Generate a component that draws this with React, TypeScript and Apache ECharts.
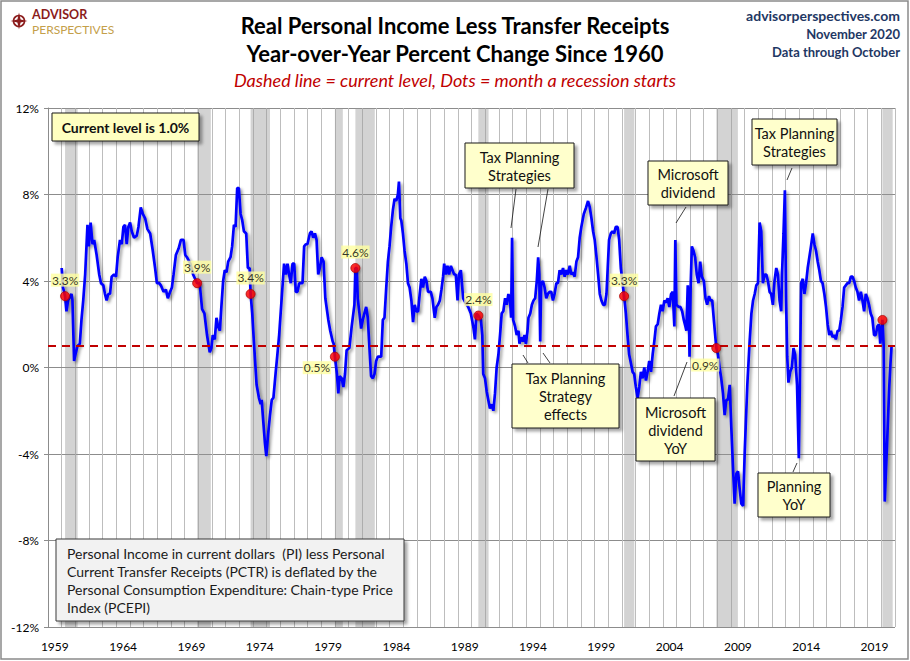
import React, { useEffect, useRef } from "react";
import * as echarts from "echarts";

const FONT = "Lato, 'Open Sans', sans-serif";

// Year-over-year % change, [decimal year, value]
const yoy1960s: [number, number][] = [
  [1960.0, 4.6], [1960.1, 3.7], [1960.25, 3.3], [1960.35, 2.6], [1960.47, 3.1], [1960.72, 3.4], [1960.79, 3.1],
  [1960.91, 0.3], [1961.01, 0.6], [1961.16, 1.0], [1961.33, 1.1], [1961.45, 2.2], [1961.58, 3.1], [1961.72, 4.3],
  [1961.89, 6.6], [1961.99, 5.6], [1962.12, 6.7], [1962.26, 5.7], [1962.38, 5.9], [1962.56, 5.2], [1962.75, 4.3],
  [1962.88, 3.9], [1963.05, 3.8], [1963.17, 3.4], [1963.29, 3.1], [1963.41, 3.4], [1963.54, 3.4], [1963.66, 4.2],
  [1963.83, 4.3], [1963.98, 4.2], [1964.1, 5.1], [1964.27, 5.9], [1964.4, 5.7], [1964.52, 6.5], [1964.64, 6.6],
  [1964.76, 5.7], [1964.88, 6.5], [1965.01, 6.7], [1965.13, 6.3], [1965.3, 6.0], [1965.5, 6.1], [1965.62, 6.5],
  [1965.79, 7.4], [1965.94, 7.1], [1966.11, 6.9], [1966.28, 6.4], [1966.48, 6.2], [1966.67, 5.4], [1966.84, 4.6],
  [1966.97, 3.9], [1967.14, 3.9], [1967.26, 3.8], [1967.46, 3.5], [1967.63, 3.6], [1967.77, 3.2], [1967.94, 3.5],
  [1968.07, 3.7], [1968.19, 4.3], [1968.36, 5.2], [1968.56, 5.5], [1968.73, 5.9], [1968.92, 5.9], [1969.05, 5.2],
  [1969.17, 5.1], [1969.42, 4.8], [1969.62, 4.3], [1969.92, 3.9],
];

const yoy1970s: [number, number][] = [
  [1970.1, 3.9], [1970.28, 2.7], [1970.45, 2.5], [1970.64, 1.5], [1970.84, 0.7], [1970.96, 0.9], [1971.06, 1.5],
  [1971.21, 1.3], [1971.33, 2.3], [1971.45, 1.9], [1971.58, 1.7], [1971.7, 2.9], [1971.82, 4.0], [1971.94, 4.5],
  [1972.07, 4.4], [1972.19, 4.9], [1972.36, 5.1], [1972.48, 5.6], [1972.61, 6.6], [1972.73, 6.5], [1972.85, 8.3],
  [1972.97, 8.3], [1973.1, 7.1], [1973.22, 6.8], [1973.34, 6.3], [1973.51, 6.2], [1973.63, 4.6], [1973.76, 4.6],
  [1973.83, 3.4], [1973.95, 2.5], [1974.07, 1.2], [1974.27, -0.8], [1974.44, -1.4], [1974.57, -1.7], [1974.64, -1.5],
  [1974.76, -2.5], [1974.88, -3.5], [1974.98, -4.1], [1975.11, -3.1], [1975.25, -2.2], [1975.38, -1.5], [1975.5, -1.4],
  [1975.67, -0.2], [1975.79, 0.6], [1975.92, 1.5], [1976.04, 2.6], [1976.16, 3.7], [1976.28, 4.8], [1976.41, 4.3],
  [1976.53, 4.8], [1976.65, 4.3], [1976.77, 3.9], [1976.9, 4.8], [1977.02, 4.8], [1977.14, 3.5], [1977.26, 3.5],
  [1977.39, 3.9], [1977.63, 3.9], [1977.75, 5.6], [1977.87, 5.7], [1977.99, 5.7], [1978.17, 6.2], [1978.29, 6.3],
  [1978.41, 6.0], [1978.54, 6.2], [1978.66, 5.9], [1978.78, 4.3], [1978.9, 4.6], [1979.03, 5.1], [1979.17, 4.9],
  [1979.3, 3.2], [1979.52, 2.2], [1979.66, 1.7], [1979.84, 1.2], [1979.91, 1.1],
];

const yoy1980s: [number, number][] = [
  [1980.0, 0.5], [1980.15, -0.3], [1980.25, -1.2], [1980.35, -0.4], [1980.5, -0.5], [1980.62, -0.9], [1980.74, -0.3],
  [1980.86, 0.8], [1981.06, 0.9], [1981.23, 1.9], [1981.35, 2.5], [1981.43, 2.9], [1981.5, 4.6], [1981.6, 4.6],
  [1981.67, 3.2], [1981.8, 2.5], [1981.92, 1.8], [1982.04, 2.2], [1982.16, 2.5], [1982.29, 2.8], [1982.41, 2.3],
  [1982.53, 0.9], [1982.65, -0.4], [1982.78, -0.5], [1982.9, -0.3], [1983.02, 0.3], [1983.14, 0.5], [1983.27, 0.5],
  [1983.39, 0.5], [1983.51, 2.2], [1983.63, 2.3], [1983.76, 3.7], [1983.88, 4.9], [1984.0, 5.6], [1984.12, 6.5],
  [1984.25, 7.3], [1984.37, 7.8], [1984.49, 7.7], [1984.61, 8.0], [1984.69, 8.6], [1984.79, 6.9], [1984.86, 6.8],
  [1984.98, 6.2], [1985.1, 5.4], [1985.23, 4.8], [1985.35, 3.9], [1985.47, 3.7], [1985.6, 3.1], [1985.72, 2.1],
  [1985.84, 2.9], [1985.96, 2.6], [1986.09, 2.6], [1986.21, 3.4], [1986.33, 4.1], [1986.45, 3.7], [1986.58, 4.2],
  [1986.7, 4.0], [1986.82, 3.5], [1987.02, 3.5], [1987.14, 3.2], [1987.31, 2.3], [1987.43, 2.8], [1987.55, 2.9],
  [1987.68, 3.1], [1987.8, 3.6], [1987.92, 4.2], [1988.0, 4.8], [1988.12, 4.3], [1988.24, 4.7], [1988.36, 4.3],
  [1988.49, 4.7], [1988.61, 4.5], [1988.73, 4.3], [1988.85, 4.3], [1988.98, 3.1], [1989.08, 4.3], [1989.22, 4.5],
  [1989.39, 3.2], [1989.56, 3.0], [1989.76, 2.8], [1989.95, 2.5],
];

const yoy1990s: [number, number][] = [
  [1990.13, 1.9], [1990.25, 1.3], [1990.37, 2.5], [1990.5, 2.4], [1990.69, 2.2], [1990.79, 1.5], [1990.86, -0.3],
  [1990.99, -0.5], [1991.11, -1.1], [1991.23, -1.5], [1991.35, -1.9], [1991.48, -1.7], [1991.6, -2.0], [1991.72, -1.2],
  [1991.84, 0.0], [1991.97, 0.6], [1992.09, 1.5], [1992.21, 2.5], [1992.33, 2.6], [1992.46, 3.2], [1992.58, 2.9],
  [1992.7, 3.4], [1992.82, 3.1], [1992.9, 2.3], [1992.97, 6.0], [1993.05, 2.2], [1993.19, 1.9], [1993.31, 1.5],
  [1993.44, 1.7], [1993.51, 1.1], [1993.63, 1.4], [1993.76, 1.2], [1993.88, 1.5], [1993.98, 1.1], [1994.1, 1.7],
  [1994.17, 2.3], [1994.3, 2.5], [1994.42, 2.9], [1994.54, 3.1], [1994.66, 3.2], [1994.78, 4.0], [1994.88, 5.1],
  [1994.96, 4.3], [1995.03, 1.2], [1995.1, 3.9], [1995.23, 4.0], [1995.35, 3.7], [1995.47, 3.2], [1995.59, 3.4],
  [1995.72, 3.5], [1995.84, 3.5], [1995.96, 3.1], [1996.08, 3.4], [1996.21, 3.9], [1996.33, 3.9], [1996.45, 4.5],
  [1996.57, 4.3], [1996.7, 4.6], [1996.82, 4.2], [1996.94, 4.5], [1997.06, 4.3], [1997.19, 4.7], [1997.31, 4.3],
  [1997.43, 4.4], [1997.55, 4.2], [1997.68, 4.9], [1997.8, 5.1], [1997.92, 6.0], [1998.04, 6.5], [1998.22, 7.1],
  [1998.39, 7.4], [1998.53, 7.7], [1998.66, 7.4], [1998.78, 6.9], [1998.9, 6.3], [1999.02, 5.9], [1999.15, 5.1],
  [1999.27, 4.3], [1999.39, 3.4], [1999.51, 3.1], [1999.64, 2.9], [1999.76, 2.9], [1999.88, 3.4],
];

const yoy2000s: [number, number][] = [
  [2000.07, 5.9], [2000.2, 6.2], [2000.32, 6.3], [2000.44, 6.2], [2000.56, 6.5], [2000.69, 6.5], [2000.81, 5.9],
  [2000.93, 4.6], [2001.17, 3.3], [2001.3, 2.5], [2001.42, 1.5], [2001.54, 0.6], [2001.67, 0.2], [2001.79, -0.2],
  [2001.91, -0.3], [2002.03, -0.9], [2002.16, -1.4], [2002.28, -0.9], [2002.4, -0.2], [2002.52, -0.5], [2002.65, 0.0],
  [2002.77, -0.6], [2002.89, -0.2], [2003.01, 0.3], [2003.14, -0.2], [2003.26, 0.6], [2003.38, 1.2], [2003.5, 1.9],
  [2003.63, 2.0], [2003.75, 2.5], [2003.87, 2.9], [2003.99, 2.6], [2004.12, 3.1], [2004.24, 3.0], [2004.36, 3.2],
  [2004.48, 2.8], [2004.61, 3.4], [2004.73, 3.5], [2004.85, 1.9], [2004.92, 5.9], [2005.0, 2.9], [2005.17, 2.8],
  [2005.29, 2.8], [2005.42, 2.6], [2005.54, 2.2], [2005.66, 1.9], [2005.73, 1.7], [2005.83, 3.8], [2005.9, 3.1],
  [2005.96, 0.5], [2006.04, 3.7], [2006.13, 5.6], [2006.25, 5.4], [2006.37, 5.1], [2006.49, 4.3], [2006.62, 3.9],
  [2006.74, 4.9], [2006.86, 4.2], [2007.01, 4.0], [2007.13, 3.2], [2007.25, 2.9], [2007.38, 3.3], [2007.5, 3.1],
  [2007.62, 3.1], [2007.74, 2.2], [2007.92, 0.9], [2008.04, 0.6], [2008.16, 0.0], [2008.28, -0.5], [2008.41, -1.2],
  [2008.53, -2.2], [2008.65, -1.5], [2008.77, -1.5], [2008.9, -0.8], [2009.02, -2.8], [2009.14, -4.6], [2009.26, -6.3],
  [2009.39, -4.9], [2009.51, -4.8], [2009.63, -5.6], [2009.75, -6.3], [2009.88, -6.4],
];

const yoy2010s: [number, number][] = [
  [2010.0, -3.9], [2010.19, -0.8], [2010.36, 1.2], [2010.49, 2.5], [2010.61, 3.1], [2010.73, 3.4], [2010.85, 3.8],
  [2010.97, 3.9], [2011.09, 6.7], [2011.21, 6.3], [2011.33, 3.9], [2011.46, 4.3], [2011.58, 4.3], [2011.7, 4.0],
  [2011.82, 3.5], [2011.94, 3.4], [2012.06, 2.9], [2012.18, 4.0], [2012.31, 4.6], [2012.43, 4.3], [2012.55, 3.1],
  [2012.67, 2.6], [2012.74, 4.5], [2012.84, 6.2], [2012.94, 8.2], [2013.03, 3.1], [2013.11, 0.5], [2013.2, -0.7],
  [2013.33, -0.2], [2013.45, 0.0], [2013.57, 0.9], [2013.69, 0.6], [2013.83, -0.8], [2013.96, -4.2], [2014.05, 0.0],
  [2014.13, 3.9], [2014.25, 4.1], [2014.37, 3.4], [2014.49, 3.9], [2014.61, 4.6], [2014.73, 5.1], [2014.85, 5.6],
  [2014.98, 6.2], [2015.1, 5.7], [2015.22, 5.4], [2015.34, 4.9], [2015.46, 4.5], [2015.58, 4.0], [2015.7, 3.9],
  [2015.83, 3.4], [2015.95, 2.8], [2016.07, 2.0], [2016.19, 1.5], [2016.31, 1.7], [2016.43, 1.4], [2016.55, 1.5],
  [2016.67, 1.3], [2016.8, 1.7], [2016.92, 1.7], [2017.04, 2.2], [2017.16, 2.8], [2017.28, 3.7], [2017.4, 3.8],
  [2017.52, 3.9], [2017.65, 3.9], [2017.77, 4.2], [2017.89, 4.2], [2018.01, 4.0], [2018.13, 3.7], [2018.25, 3.5],
  [2018.37, 3.1], [2018.5, 3.5], [2018.62, 3.1], [2018.74, 2.6], [2018.86, 3.4], [2018.98, 3.2], [2019.1, 2.9],
  [2019.22, 2.5], [2019.34, 2.3], [2019.47, 1.5], [2019.59, 1.5], [2019.71, 1.9], [2019.83, 2.0], [2019.92, 1.1],
];

const yoy2020: [number, number][] = [
  [2020.0, 1.6], [2020.08, 2.2], [2020.17, 1.0], [2020.25, -6.2], [2020.33, -4.9], [2020.42, -3.5], [2020.5, -2.2],
  [2020.58, -0.9], [2020.67, 0.2], [2020.75, 1.0],
];

// NBER recessions [start, end] in decimal years
const recessions: [number, number][] = [
  [1960.25, 1961.17], [1969.92, 1970.92], [1973.83, 1975.25], [1980.0, 1980.58], [1981.5, 1982.92],
  [1990.5, 1991.25], [2001.17, 2001.92], [2007.92, 2009.5], [2020.08, 2020.83],
];

// Month a recession starts: [decimal year, value]
const recessionStartDots: [number, number][] = [
  [1960.25, 3.3], [1969.92, 3.9], [1973.83, 3.4], [1980.0, 0.5], [1981.5, 4.6], [1990.5, 2.4],
  [2001.17, 3.3], [2007.92, 0.9], [2020.08, 2.2],
];

const currentLevel = 1.0;
const xYears: string[] = Array.from({ length: 62 }, (_, i) => String(1959 + i));

const titleLines = ["Real Personal Income Less Transfer Receipts", "Year-over-Year Percent Change Since 1960"];
const subtitle = "Dashed line = current level, Dots = month a recession starts";
const headerRight = ["advisorperspectives.com", "November 2020", "Data through October"];
const infoText =
  "Personal Income in current dollars  (PI) less Personal\nCurrent Transfer Receipts (PCTR) is deflated by the\nPersonal Consumption Expenditure: Chain-type Price\nIndex (PCEPI)";

const incomeData = [...yoy1960s, ...yoy1970s, ...yoy1980s, ...yoy1990s, ...yoy2000s, ...yoy2010s, ...yoy2020];

const SHADOW = { shadowColor: "rgba(0,0,0,0.35)", shadowBlur: 3, shadowOffsetX: 3, shadowOffsetY: 3 };

function txt(x: number, y: number, text: string, font: string, fill: string, align = "center", vAlign = "middle", lineHeight?: number) {
  return {
    type: "text",
    z: 100,
    x,
    y,
    silent: true,
    style: {
      text,
      font,
      fill,
      textAlign: align,
      align,
      textVerticalAlign: vAlign,
      verticalAlign: vAlign,
      lineHeight,
    },
  };
}

function box(x: number, y: number, w: number, h: number, text: string, fill = "#ffffcc", bold = false, size = 14.5) {
  return [
    {
      type: "rect",
      z: 99,
      silent: true,
      shape: { x, y, width: w, height: h },
      style: { fill, stroke: "#1a1a1a", lineWidth: 1, ...SHADOW },
    },
    txt(x + w / 2, y + h / 2 + 0.5, text, `${bold ? "bold " : ""}${size}px ${FONT}`, "#111", "center", "middle", 18),
  ];
}

function leader(x1: number, y1: number, x2: number, y2: number) {
  return { type: "line", z: 100, silent: true, shape: { x1, y1, x2, y2 }, style: { stroke: "#111", lineWidth: 0.8 } };
}

export default function App() {
  const ref = useRef<HTMLDivElement>(null);

  useEffect(() => {
    document.body.style.margin = "0";
    if (!ref.current) return;
    const chart = echarts.init(ref.current, undefined, { renderer: "svg" });

    const dotData = recessionStartDots.map((d, i) => {
      const last = i === recessionStartDots.length - 1;
      let offset = [0, -16];
      if (d[0] === 1980.0) offset = [-18, 11];
      if (d[0] === 2007.92) offset = [-11, 17];
      return {
        value: d,
        label: { show: !last, offset },
      };
    });

    const graphics: any[] = [
      {
        type: "rect",
        z: 0,
        silent: true,
        shape: { x: 1, y: 1, width: 907, height: 658 },
        style: { fill: "none", stroke: "#8a8a8a", lineWidth: 1.5 },
      },
      // logo
      {
        type: "circle",
        z: 100,
        silent: true,
        shape: { cx: 19, cy: 21, r: 5.5 },
        style: { fill: "none", stroke: "#8b1c1c", lineWidth: 1.6 },
      },
      {
        type: "polygon",
        z: 101,
        silent: true,
        shape: {
          points: [
            [19, 12.5], [20.6, 19.4], [27.5, 21], [20.6, 22.6], [19, 29.5], [17.4, 22.6], [10.5, 21], [17.4, 19.4],
          ],
        },
        style: { fill: "#8b1c1c" },
      },
      txt(32, 14, "ADVISOR", `bold 12.5px ${FONT}`, "#8b1c1c", "left", "middle"),
      txt(32, 29, "PERSPECTIVES", `12px ${FONT}`, "#c4a04a", "left", "middle"),
      // titles
      txt(455, 25, titleLines[0], `bold 22px ${FONT}`, "#000"),
      txt(455, 53, titleLines[1], `bold 22px ${FONT}`, "#000"),
      txt(455, 80, subtitle, `italic 18px ${FONT}`, "#c00000"),
      txt(900, 15, headerRight[0], `bold 14px ${FONT}`, "#1f3864", "right"),
      txt(900, 34, headerRight[1], `bold 13px ${FONT}`, "#1f3864", "right"),
      txt(900, 52, headerRight[2], `bold 13px ${FONT}`, "#1f3864", "right"),
      // current level box
      ...box(52, 113, 147, 28, `Current level is ${currentLevel.toFixed(1)}%`, "#ffffc0", true, 14),
      // info box
      {
        type: "rect",
        z: 99,
        silent: true,
        shape: { x: 56, y: 539, width: 348, height: 82 },
        style: { fill: "#f2f2f2", stroke: "#3a3a3a", lineWidth: 1, ...SHADOW },
      },
      txt(67, 580, infoText, `14px ${FONT}`, "#1a1a1a", "left", "middle", 18),
      // annotations
      ...box(465, 143, 109, 45, "Tax Planning\nStrategies"),
      leader(516, 189, 511, 228),
      leader(548, 189, 538, 247),
      ...box(512, 364, 107, 64, "Tax Planning\nStrategy\neffects"),
      leader(523, 355, 528, 363),
      leader(543, 353, 550, 363),
      ...box(648, 161, 80, 44, "Microsoft\ndividend"),
      leader(686, 207, 676, 223),
      ...box(636, 398, 79, 63, "Microsoft\ndividend\nYoY"),
      leader(687, 362, 674, 396),
      ...box(752, 119, 85, 46, "Tax Planning\nStrategies"),
      leader(792, 168, 787, 180),
      ...box(758, 473, 72, 44, "Planning\nYoY"),
      leader(797, 463, 793, 472),
    ];

    chart.setOption({
      animation: false,
      grid: { left: 48, right: 15, top: 108, bottom: 34, containLabel: false },
      xAxis: [
        {
          type: "value",
          min: 1959,
          max: 2021,
          interval: 1,
          axisLine: { show: true, lineStyle: { color: "#8c8c8c" } },
          axisTick: { show: false },
          axisLabel: { show: false },
          splitLine: { show: true, lineStyle: { color: "#bdbdbd", width: 1 } },
        },
        {
          type: "category",
          position: "bottom",
          data: xYears,
          boundaryGap: true,
          axisLine: { show: false },
          axisTick: { show: false },
          splitLine: { show: false },
          axisLabel: { interval: 4, margin: 13, fontSize: 12, fontFamily: FONT, color: "#000" },
        },
      ],
      yAxis: {
        type: "value",
        min: -12,
        max: 12,
        interval: 4,
        axisLine: { show: true, lineStyle: { color: "#8c8c8c" } },
        axisTick: { show: true, length: 4, lineStyle: { color: "#8c8c8c" } },
        axisLabel: { formatter: "{value}%", fontSize: 12, fontFamily: FONT, color: "#000", margin: 9 },
        splitLine: { show: true, lineStyle: { color: "#8c8c8c", width: 1 } },
      },
      series: [
        {
          type: "custom",
          xAxisIndex: 0,
          yAxisIndex: 0,
          z: 1,
          silent: true,
          data: recessions,
          encode: { x: [0, 1] },
          renderItem: (_params: any, api: any) => {
            const s = api.coord([api.value(0), 12]);
            const e = api.coord([api.value(1), -12]);
            return {
              type: "rect",
              shape: { x: s[0], y: s[1], width: e[0] - s[0], height: e[1] - s[1] },
              style: { fill: "rgba(150,150,150,0.42)" },
            };
          },
        },
        {
          type: "line",
          xAxisIndex: 0,
          yAxisIndex: 0,
          z: 3,
          data: incomeData,
          showSymbol: false,
          symbol: "none",
          lineStyle: {
            color: "#0000ff",
            width: 2.7,
            shadowColor: "rgba(0,0,0,0.4)",
            shadowBlur: 3,
            shadowOffsetX: 2,
            shadowOffsetY: 2,
          },
          markLine: {
            silent: true,
            symbol: ["none", "none"],
            label: { show: false },
            lineStyle: { color: "#c00000", width: 2, type: [8, 6] },
            data: [{ yAxis: currentLevel }],
          },
        },
        {
          type: "scatter",
          xAxisIndex: 0,
          yAxisIndex: 0,
          z: 5,
          data: dotData,
          symbolSize: 9,
          itemStyle: { color: "#ff0000", borderColor: "#b00000", borderWidth: 1, shadowColor: "rgba(0,0,0,0.3)", shadowBlur: 2, shadowOffsetX: 1, shadowOffsetY: 1 },
          label: {
            show: true,
            position: "inside",
            formatter: (p: any) => `${p.value[1].toFixed(1)}%`,
            color: "#000",
            fontSize: 12,
            fontFamily: FONT,
            backgroundColor: "#ffffa0",
            padding: [1, 1, 0, 1],
          },
        },
      ],
      graphic: { elements: graphics },
    });

    return () => chart.dispose();
  }, []);

  return <div ref={ref} style={{ position: "fixed", left: 0, top: 0, width: 910, height: 661, background: "#fff" }} />;
}
